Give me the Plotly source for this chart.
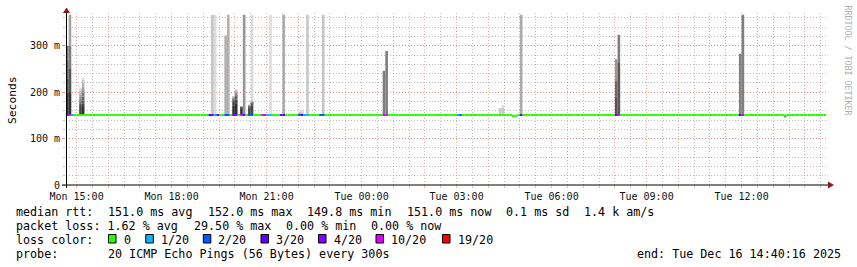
import re
import plotly.graph_objects as go
from datetime import datetime, timedelta

# ---------------- data ----------------
START = datetime(2025, 12, 15, 14, 40, 0)
N_STEPS = 288            # 5-minute steps over 24 h
STEP = timedelta(minutes=5)

MEDIAN_MS = 151.0        # flat median rtt (ms)
median_exceptions = {169: 149.0, 170: 149.0, 272: 150.0}

# lost pings (out of 20) per step
loss_by_step = {
    0: 4, 1: 10, 2: 1,
    54: 3, 55: 3, 56: 1, 57: 3,
    60: 2, 61: 2, 63: 4, 64: 4, 66: 10, 67: 3, 69: 2, 70: 2,
    74: 10, 75: 10, 76: 1, 77: 1, 81: 3, 82: 3,
    88: 2, 89: 3, 90: 1, 91: 1, 96: 2, 97: 2,
    120: 10, 121: 10, 148: 1, 149: 2, 172: 3,
    208: 3, 209: 10, 255: 3, 256: 10,
}

# highest pings (ms, descending) of steps that show smoke above the median
smoke_high = {
    0: [300, 300, 300, 300, 300, 270, 230, 200],
    1: [367, 367, 300, 250, 200],
    5: [208, 205, 200, 195, 190, 185, 180, 175, 170],
    6: [231, 226, 220, 212, 205, 198, 190, 182, 175, 168],
    55: [367, 367],
    56: [367],
    60: [322, 322, 322],
    61: [367, 367, 367],
    63: [190, 189, 188, 186, 184, 182, 178, 172],
    64: [205, 204, 202, 198, 194, 190, 184, 176],
    66: [169, 168, 167, 166, 165],
    67: [367, 367, 367, 367],
    69: [172, 171, 170, 170, 169, 168, 167, 165],
    70: [367, 180, 179, 178, 177, 176, 175, 170],
    77: [367],
    82: [367, 367, 367],
    88: [158, 156, 155],
    89: [160, 157],
    91: [367, 367],
    97: [367, 367],
    120: [246, 246, 246],
    121: [289, 289, 289],
    164: [166, 166],
    165: [172, 166],
    172: [367, 367, 367],
    208: [271, 271, 271, 271, 225, 225, 190],
    209: [324, 324, 324, 263],
    255: [283, 283, 283, 283, 283],
    256: [367, 367, 367],
}
# lowest pings (ms, ascending) of steps with smoke below the median
smoke_low = {
    272: [147, 147, 147, 147, 147, 147, 147, 147],
}

loss_levels = [0, 1, 2, 3, 4, 10, 19]
loss_labels = ["0", "1/20", "2/20", "3/20", "4/20", "10/20", "19/20"]
loss_colors = ["#26ff00", "#00b8ff", "#0059ff", "#5e00ff", "#7e00ff", "#dd00ff", "#ff0000"]

y_tick_vals = [0, 100, 200, 300]
y_tick_text = ["0", "100 m", "200 m", "300 m"]
Y_MAX = 370.0

stats_lines = [
    "median rtt:  151.0 ms avg  152.0 ms max  149.8 ms min  151.0 ms now  0.1 ms sd  1.4 k am/s",
    "packet loss: 1.62 % avg  29.50 % max  0.00 % min  0.00 % now",
]
probe_line = "probe:       20 ICMP Echo Pings (56 Bytes) every 300s"
end_line = "end: Tue Dec 16 14:40:16 2025"

# ---------------- helpers ----------------
W, H = 857, 267
MONO = "DejaVu Sans Mono"


def px(x):
    return x / W


def py(y):
    return 1 - y / H


def step_time(i):
    return START + STEP * i + STEP / 2


def median_at(i):
    return median_exceptions.get(i, MEDIAN_MS)


def loss_color(n):
    col = loss_colors[0]
    for lvl, c in zip(loss_levels, loss_colors):
        if n >= lvl:
            col = c
    return col


def smoke_gray(rank, n):
    half = n / 2
    c = int(190 / half * (half - rank)) + 50
    c = max(0, min(255, c))
    return "rgb(%d,%d,%d)" % (c, c, c)


# ---------------- smoke bars ----------------
sx, sbase, sy, scol = [], [], [], []
for i, vals in smoke_high.items():
    n = 20 - loss_by_step.get(i, 0)
    med = median_at(i)
    for r, top in enumerate(vals, start=1):
        bottom = vals[r] if r < len(vals) else med
        if top - bottom <= 0:
            continue
        sx.append(step_time(i)); sbase.append(bottom); sy.append(top - bottom)
        scol.append(smoke_gray(r, n))
for i, vals in smoke_low.items():
    n = 20 - loss_by_step.get(i, 0)
    med = median_at(i)
    for r, low in enumerate(vals, start=1):
        upper = vals[r] if r < len(vals) else med
        if upper - low <= 0:
            continue
        sx.append(step_time(i)); sbase.append(low); sy.append(upper - low)
        scol.append(smoke_gray(r, n))

fig = go.Figure()
fig.add_trace(go.Bar(
    x=sx, base=sbase, y=sy, width=STEP.total_seconds() * 1000,
    marker=dict(color=scol, line=dict(width=0)), showlegend=False, hoverinfo="skip",
))

# ---------------- median line coloured by loss ----------------
LINE_MS = 4.3  # ~2px thick
mx, mbase, mcol = [], [], []
for i in range(N_STEPS):
    mx.append(step_time(i))
    mbase.append(median_at(i) - LINE_MS / 2)
    mcol.append(loss_color(loss_by_step.get(i, 0)))
fig.add_trace(go.Bar(
    x=mx, base=mbase, y=[LINE_MS] * len(mx), width=STEP.total_seconds() * 1000,
    marker=dict(color=mcol, line=dict(width=0)), showlegend=False, hoverinfo="skip",
))

# ---------------- axes ----------------
end_time = START + STEP * N_STEPS
hours = []
t = START.replace(minute=0) + timedelta(hours=1)
while t < end_time:
    hours.append(t)
    t += timedelta(hours=1)
hour_text = [(h.strftime("%a %H:%M") if h.hour % 3 == 0 else "") for h in hours]
halfs = []
t = START.replace(minute=30) if START.minute < 30 else START.replace(minute=0) + timedelta(minutes=90)
while t < end_time:
    halfs.append(t)
    t += timedelta(hours=1)

MAJOR = "rgba(235,120,120,0.65)"
MINOR = "rgba(170,170,170,0.75)"
DASH = "1px,2px"

X0, X1 = 66, 826
Y0, Y1 = 13.3, 185

fig.update_layout(
    width=W, height=H, margin=dict(l=0, r=0, t=0, b=0, autoexpand=False),
    paper_bgcolor="white", plot_bgcolor="white",
    barmode="overlay", showlegend=False,
    font=dict(family=MONO, size=10, color="#000"),
    xaxis=dict(
        domain=[px(X0), px(X1)], range=[START, end_time], type="date", automargin=False,
        tickmode="array", tickvals=hours, ticktext=hour_text,
        showgrid=True, gridcolor=MAJOR, griddash=DASH, gridwidth=1,
        ticks="outside", ticklen=2, tickcolor=MAJOR,
        minor=dict(tickmode="array", tickvals=halfs, showgrid=True,
                   gridcolor=MINOR, griddash=DASH, ticks="outside", ticklen=2, tickcolor=MINOR),
        tickfont=dict(family=MONO, size=10, color="#111"),
        showline=False, zeroline=False, fixedrange=True,
    ),
    yaxis=dict(
        domain=[py(Y1), py(Y0)], range=[0, Y_MAX], automargin=False,
        tickmode="array", tickvals=y_tick_vals, ticktext=y_tick_text,
        showgrid=True, gridcolor=MAJOR, griddash=DASH, gridwidth=1,
        ticks="outside", ticklen=3, tickcolor=MAJOR,
        minor=dict(dtick=20, showgrid=True, gridcolor=MINOR, griddash=DASH,
                   ticks="outside", ticklen=2, tickcolor=MINOR),
        tickfont=dict(family=MONO, size=10, color="#111"),
        showline=False, zeroline=False, fixedrange=True,
    ),
)

# axis lines and arrow heads
AX = "#000"
ARROW = "#8b1a1a"
shapes = [
    dict(type="line", xref="paper", yref="paper", x0=px(62), x1=px(829), y0=py(185), y1=py(185),
         line=dict(color=AX, width=1)),
    dict(type="line", xref="paper", yref="paper", x0=px(66.5), x1=px(66.5), y0=py(188), y1=py(12),
         line=dict(color=AX, width=1)),
    dict(type="path", xref="paper", yref="paper",
         path="M %f %f L %f %f L %f %f Z" % (px(828), py(181.5), px(834), py(185), px(828), py(188.5)),
         fillcolor=ARROW, line=dict(width=0)),
    dict(type="path", xref="paper", yref="paper",
         path="M %f %f L %f %f L %f %f Z" % (px(63), py(13), px(66.5), py(7.5), px(70), py(13)),
         fillcolor=ARROW, line=dict(width=0)),
]

annotations = []
NB = "\u00a0"
LEG = 11.7
PAD = 2.0          # annotation border + pad offset
LX0 = 16.0         # left edge of legend text
CW = 7.1           # monospace character advance in the reference


def txt(s, x, y, xanchor="left", size=LEG, color="#000", angle=0):
    off = -PAD if xanchor == "left" else (PAD if xanchor == "right" else 0)
    annotations.append(dict(text=s.replace(" ", NB), x=px(x + off), y=py(y), xref="paper", yref="paper",
                            xanchor=xanchor, yanchor="middle", showarrow=False, textangle=angle,
                            font=dict(family=MONO, size=size, color=color)))


def txt_cols(line, y):
    # place each chunk (separated by 2+ spaces) at its character column
    for m in re.finditer(r"\S+(?: \S+)*", line):
        txt(m.group(0), LX0 + m.start() * CW, y)


txt("Seconds", 12, 100, xanchor="center", angle=-90, size=11.3)
txt("RRDTOOL / TOBI OETIKER", 847.5, 60, xanchor="center", angle=90, size=8.3, color="#b0b0b0")

txt_cols(stats_lines[0], 211.5)
txt_cols(stats_lines[1], 225.5)
txt("loss color:", LX0, 239.5)
txt_cols(probe_line, 253.5)
txt(end_line, 840.5, 253.5, xanchor="right")

box_x = [108.5, 145.8, 203.3, 261.0, 318.5, 376.0, 442.5]
for bx, lab, col in zip(box_x, loss_labels, loss_colors):
    shapes.append(dict(type="rect", xref="paper", yref="paper",
                       x0=px(bx), x1=px(bx + 7.5), y0=py(243), y1=py(234.5),
                       fillcolor=col, line=dict(color="#000", width=1)))
    txt(lab, bx + 15.0, 239.5)

fig.update_layout(shapes=shapes, annotations=annotations)
fig.write_html("out.html")
